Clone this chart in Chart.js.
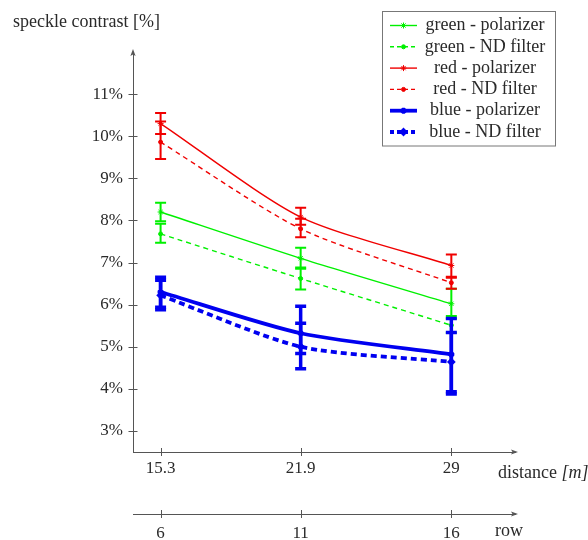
<!DOCTYPE html>
<html>
<head>
<meta charset="utf-8">
<script src="https://cdn.jsdelivr.net/npm/chart.js@4/dist/chart.umd.min.js"></script>
<style>
html,body{margin:0;padding:0;background:#fff;}
#wrap{width:588px;height:540px;}
</style>
</head>
<body>
<div id="wrap"><canvas id="c" width="588" height="540"></canvas></div>
<script>
// ---- data ----
const distance = [15.3, 21.9, 29];
const distanceLabels = ['15.3', '21.9', '29'];
const rowNumbers = ['6', '11', '16'];
const yTicks = [3, 4, 5, 6, 7, 8, 9, 10, 11];

const greenPolarizer     = [8.20, 7.10, 6.02];
const greenPolarizerLow  = [7.98, 6.85, 5.67];
const greenPolarizerHigh = [8.42, 7.35, 6.38];
const greenND     = [7.68, 6.62, 5.51];
const greenNDLow  = [7.47, 6.36, 5.33];
const greenNDHigh = [7.92, 6.88, 5.73];

const redPolarizer     = [10.30, 8.08, 6.93];
const redPolarizerLow  = [10.05, 7.90, 6.66];
const redPolarizerHigh = [10.55, 8.30, 7.19];
const redND     = [9.86, 7.80, 6.52];
const redNDLow  = [9.46, 7.60, 6.38];
const redNDHigh = [10.35, 8.04, 6.64];

const bluePolarizer     = [6.30, 5.32, 4.82];
const bluePolarizerLow  = [5.94, 4.84, 3.93];
const bluePolarizerHigh = [6.65, 5.96, 5.67];
const blueND     = [6.22, 5.00, 4.64];
const blueNDLow  = [5.88, 4.48, 3.88];
const blueNDHigh = [6.58, 5.56, 5.34];

const labels = ['green - polarizer','green - ND filter','red - polarizer','red - ND filter','blue - polarizer','blue - ND filter'];

const GREEN = '#00f000', RED = '#f00000', BLUE = '#0000f0';
const FONT = '"Liberation Serif", "DejaVu Serif", serif';
const AXIS = '#555555';
const TXT = '#2a2a2a';

function pts(vals){ return vals.map((v,i)=>({x: distance[i], y: v})); }

function ds(label, vals, low, high, color, width, dash, pstyle, prad, capW){
  return {
    label, data: pts(vals), errLow: low, errHigh: high, capWidth: capW,
    borderColor: color, backgroundColor: color, borderWidth: width,
    borderDash: dash, tension: 0.25, fill: false,
    pointStyle: pstyle, pointRadius: prad, pointBorderWidth: Math.max(1, width*0.7),
    pointBackgroundColor: color, pointBorderColor: color
  };
}

const datasets = [
  ds(labels[0], greenPolarizer, greenPolarizerLow, greenPolarizerHigh, GREEN, 1.4, [], 'star', 3, 2),
  ds(labels[1], greenND, greenNDLow, greenNDHigh, GREEN, 1.4, [5,4], 'circle', 2, 2),
  ds(labels[2], redPolarizer, redPolarizerLow, redPolarizerHigh, RED, 1.4, [], 'star', 3, 2),
  ds(labels[3], redND, redNDLow, redNDHigh, RED, 1.4, [5,4], 'circle', 2, 2),
  ds(labels[4], bluePolarizer, bluePolarizerLow, bluePolarizerHigh, BLUE, 3.8, [], 'star', 3, 3.5),
  ds(labels[5], blueND, blueNDLow, blueNDHigh, BLUE, 3.8, [6,4], 'rectRot', 2.5, 3.5)
];
datasets.forEach((d,i)=>{ d.order = 6 - i; });

function arrowHead(ctx, x, y, dir){
  ctx.save();
  ctx.fillStyle = AXIS;
  ctx.beginPath();
  if (dir === 'up'){
    ctx.moveTo(x, y - 1); ctx.lineTo(x - 2.6, y + 6); ctx.lineTo(x, y + 4.5); ctx.lineTo(x + 2.6, y + 6);
  } else {
    ctx.moveTo(x + 1, y); ctx.lineTo(x - 6, y - 2.6); ctx.lineTo(x - 4.5, y); ctx.lineTo(x - 6, y + 2.6);
  }
  ctx.closePath(); ctx.fill();
  ctx.restore();
}

const decor = {
  id: 'decor',
  afterDatasetsDraw(chart){
    const ctx = chart.ctx, xs = chart.scales.x, ys = chart.scales.y;
    // error bars
    chart.data.datasets.forEach(d=>{
      ctx.save();
      ctx.strokeStyle = d.borderColor; ctx.lineWidth = d.capWidth; ctx.setLineDash([]);
      d.data.forEach((p,i)=>{
        const px = xs.getPixelForValue(p.x);
        const yl = ys.getPixelForValue(d.errLow[i]);
        const yh = ys.getPixelForValue(d.errHigh[i]);
        ctx.beginPath();
        ctx.moveTo(px, yl); ctx.lineTo(px, yh);
        ctx.moveTo(px - 5.5, yl); ctx.lineTo(px + 5.5, yl);
        ctx.moveTo(px - 5.5, yh); ctx.lineTo(px + 5.5, yh);
        ctx.stroke();
      });
      ctx.restore();
    });
  },
  afterDraw(chart){
    const ctx = chart.ctx, xs = chart.scales.x, x2 = chart.scales.x2, ys = chart.scales.y;
    const ca = chart.chartArea;
    ctx.save();
    ctx.strokeStyle = AXIS; ctx.lineWidth = 1;
    // y ticks
    yTicks.forEach(v=>{
      const py = Math.round(ys.getPixelForValue(v)) + 0.5;
      ctx.beginPath(); ctx.moveTo(ca.left - 4.5, py); ctx.lineTo(ca.left + 4.5, py); ctx.stroke();
    });
    // x ticks
    distance.forEach(v=>{
      const px = Math.round(xs.getPixelForValue(v)) + 0.5;
      ctx.beginPath(); ctx.moveTo(px, xs.top - 4); ctx.lineTo(px, xs.top + 4); ctx.stroke();
      ctx.beginPath(); ctx.moveTo(px, x2.top - 4); ctx.lineTo(px, x2.top + 4); ctx.stroke();
    });
    ctx.restore();
    arrowHead(ctx, ca.left, ca.top - 2, 'up');
    arrowHead(ctx, ca.right + 2, xs.top, 'right');
    arrowHead(ctx, ca.right + 2, x2.top, 'right');

    // axis titles
    ctx.save();
    ctx.fillStyle = TXT;
    ctx.textBaseline = 'middle';
    ctx.textAlign = 'left';
    ctx.font = '18px ' + FONT;
    ctx.fillText('speckle contrast [%]', 13, 22);
    ctx.fillText('distance ', 498, 473);
    const w = ctx.measureText('distance ').width;
    ctx.font = 'italic 18px ' + FONT;
    ctx.fillText('[m]', 498 + w, 473);
    ctx.font = '18px ' + FONT;
    ctx.fillText('row', 495, 531);
    ctx.restore();

    // legend
    ctx.save();
    const bx = 382.5, by = 11.5, bw = 173, bh = 134.5;
    ctx.fillStyle = '#fff';
    ctx.fillRect(bx, by, bw, bh);
    ctx.strokeStyle = '#777'; ctx.lineWidth = 1;
    ctx.strokeRect(bx, by, bw, bh);
    chart.data.datasets.forEach((d,i)=>{
      const yy = 25.5 + i * 21.3;
      ctx.save();
      ctx.strokeStyle = d.borderColor; ctx.lineWidth = d.borderWidth;
      ctx.setLineDash(d.borderDash.length ? [4,3] : []);
      ctx.beginPath(); ctx.moveTo(390, yy); ctx.lineTo(417, yy); ctx.stroke();
      ctx.setLineDash([]);
      ctx.fillStyle = d.borderColor;
      if (Chart.helpers && Chart.helpers.drawPoint){
        ctx.lineWidth = d.pointBorderWidth;
        Chart.helpers.drawPoint(ctx, {pointStyle: d.pointStyle, radius: d.pointRadius, borderWidth: d.pointBorderWidth, rotation: 0}, 403.5, yy);
      }
      ctx.restore();
      ctx.fillStyle = TXT;
      ctx.font = '18px ' + FONT;
      ctx.textAlign = 'center'; ctx.textBaseline = 'middle';
      ctx.fillText(d.label, 485, yy);
    });
    ctx.restore();
  }
};

new Chart(document.getElementById('c'), {
  type: 'line',
  data: { datasets },
  options: {
    responsive: false,
    animation: false,
    devicePixelRatio: 1,
    layout: { padding: { top: 52, right: 73, left: 0, bottom: 0 } },
    plugins: { legend: { display: false }, tooltip: { enabled: false } },
    scales: {
      x: {
        type: 'linear', position: 'bottom', weight: 0, min: 14, max: 32,
        afterBuildTicks: s => { s.ticks = distance.map(v => ({ value: v })); },
        afterFit: s => { s.height = 62; },
        ticks: { callback: (v, i) => distanceLabels[i], padding: 6, color: TXT, font: { family: FONT, size: 17 }, maxRotation: 0, autoSkip: false },
        grid: { display: false, drawTicks: false },
        border: { display: true, color: AXIS, width: 1 }
      },
      x2: {
        type: 'linear', position: 'bottom', weight: 1, min: 14, max: 32,
        afterBuildTicks: s => { s.ticks = distance.map(v => ({ value: v })); },
        afterFit: s => { s.height = 26; },
        ticks: { callback: (v, i) => rowNumbers[i], padding: 9, color: TXT, font: { family: FONT, size: 17 }, maxRotation: 0, autoSkip: false },
        grid: { display: false, drawTicks: false },
        border: { display: true, color: AXIS, width: 1 }
      },
      y: {
        type: 'linear', min: 2.5, max: 12,
        afterBuildTicks: s => { s.ticks = yTicks.map(v => ({ value: v })); },
        afterFit: s => { s.width = 133; },
        ticks: { callback: v => v + '%', padding: 10, color: TXT, font: { family: FONT, size: 17 } },
        grid: { display: false, drawTicks: false },
        border: { display: true, color: AXIS, width: 1 }
      }
    }
  },
  plugins: [decor]
});
</script>
</body>
</html>
